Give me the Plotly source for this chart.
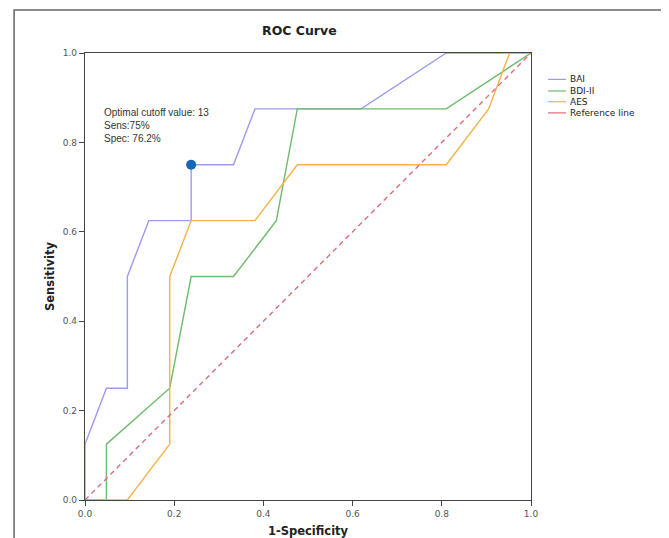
import plotly.graph_objects as go

# ---- data ----
bai_fpr = [0.0, 0.0, 0.048, 0.095, 0.095, 0.143, 0.238, 0.238, 0.333, 0.381, 0.619, 0.810, 1.0]
bai_tpr = [0.0, 0.125, 0.25, 0.25, 0.5, 0.625, 0.625, 0.75, 0.75, 0.875, 0.875, 1.0, 1.0]

bdi_fpr = [0.0, 0.048, 0.048, 0.190, 0.238, 0.333, 0.429, 0.476, 0.810, 1.0]
bdi_tpr = [0.0, 0.0, 0.125, 0.25, 0.5, 0.5, 0.625, 0.875, 0.875, 1.0]

aes_fpr = [0.0, 0.095, 0.190, 0.190, 0.238, 0.381, 0.476, 0.810, 0.905, 0.952, 1.0]
aes_tpr = [0.0, 0.0, 0.125, 0.5, 0.625, 0.625, 0.75, 0.75, 0.875, 1.0, 1.0]

ref_x = [0.0, 1.0]
ref_y = [0.0, 1.0]

cutoff_x = [0.238]
cutoff_y = [0.75]
cutoff_text = "Optimal cutoff value: 13<br>Sens:75%<br>Spec: 76.2%"

tick_vals = [0.0, 0.2, 0.4, 0.6, 0.8, 1.0]
tick_text = ["0.0", "0.2", "0.4", "0.6", "0.8", "1.0"]

series_names = ["BAI", "BDI-II", "AES", "Reference line"]
series_colors = ["#9c9cee", "#6dbb6d", "#f5b24a", "#e06a78"]

fig = go.Figure()
fig.add_trace(go.Scatter(x=bai_fpr, y=bai_tpr, mode="lines", name=series_names[0],
                         line=dict(color=series_colors[0], width=1.4)))
fig.add_trace(go.Scatter(x=bdi_fpr, y=bdi_tpr, mode="lines", name=series_names[1],
                         line=dict(color=series_colors[1], width=1.4)))
fig.add_trace(go.Scatter(x=aes_fpr, y=aes_tpr, mode="lines", name=series_names[2],
                         line=dict(color=series_colors[2], width=1.4)))
fig.add_trace(go.Scatter(x=ref_x, y=ref_y, mode="lines", name=series_names[3],
                         line=dict(color=series_colors[3], width=1.4, dash="5px,4px")))
fig.add_trace(go.Scatter(x=cutoff_x, y=cutoff_y, mode="markers", showlegend=False,
                         marker=dict(color="#1467b8", size=10), cliponaxis=False))

# manual legend (compact spacing like the reference)
leg_y = [0.941, 0.915, 0.891, 0.866]
for name, col, yy in zip(series_names, series_colors, leg_y):
    fig.add_shape(type="line", xref="paper", yref="paper", x0=1.038, x1=1.0785, y0=yy, y1=yy,
                  line=dict(color=col, width=1.2))
    fig.add_annotation(xref="paper", yref="paper", x=1.083, y=yy, text=name, showarrow=False,
                       xanchor="left", yanchor="middle",
                       font=dict(family="DejaVu Sans", size=9, color="#222"))

# outer frame
fig.add_shape(type="rect", xref="paper", yref="paper", x0=-0.159, x1=1.305, y0=-0.3, y1=1.096,
              line=dict(color="#666", width=1.5), layer="below")

# cutoff annotation
fig.add_annotation(xref="paper", yref="paper", x=0.0374, y=0.837, text=cutoff_text,
                   showarrow=False, xanchor="left", yanchor="middle", align="left",
                   font=dict(family="Liberation Sans", size=10, color="#333"))

# title
fig.add_annotation(xref="paper", yref="paper", x=0.482, y=1.051, text="<b>ROC Curve</b>",
                   showarrow=False, xanchor="center", yanchor="middle",
                   font=dict(family="DejaVu Sans", size=12.5, color="#222"))

axis_common = dict(range=[0, 1], tickvals=tick_vals, ticktext=tick_text, showgrid=False,
                   zeroline=False, showline=True, linecolor="#444", linewidth=1.3, mirror=True,
                   ticks="outside", ticklen=5, tickcolor="#444", tickwidth=1, automargin=False,
                   tickfont=dict(family="DejaVu Sans", size=9, color="#555"))

# page body has an 8px default margin, so the figure is sized/offset to compensate
fig.update_layout(
    width=661, height=530,
    margin=dict(l=77, r=138, t=45, b=38),
    paper_bgcolor="white", plot_bgcolor="white",
    showlegend=False,
    xaxis=dict(**axis_common,
               title=dict(text="<b>1-Specificity</b>", standoff=9,
                          font=dict(family="DejaVu Sans", size=11.5, color="#222"))),
    yaxis=dict(**axis_common,
               title=dict(text="<b>Sensitivity</b>", standoff=5,
                          font=dict(family="DejaVu Sans", size=11.5, color="#222"))),
)

fig.write_html("out.html")
